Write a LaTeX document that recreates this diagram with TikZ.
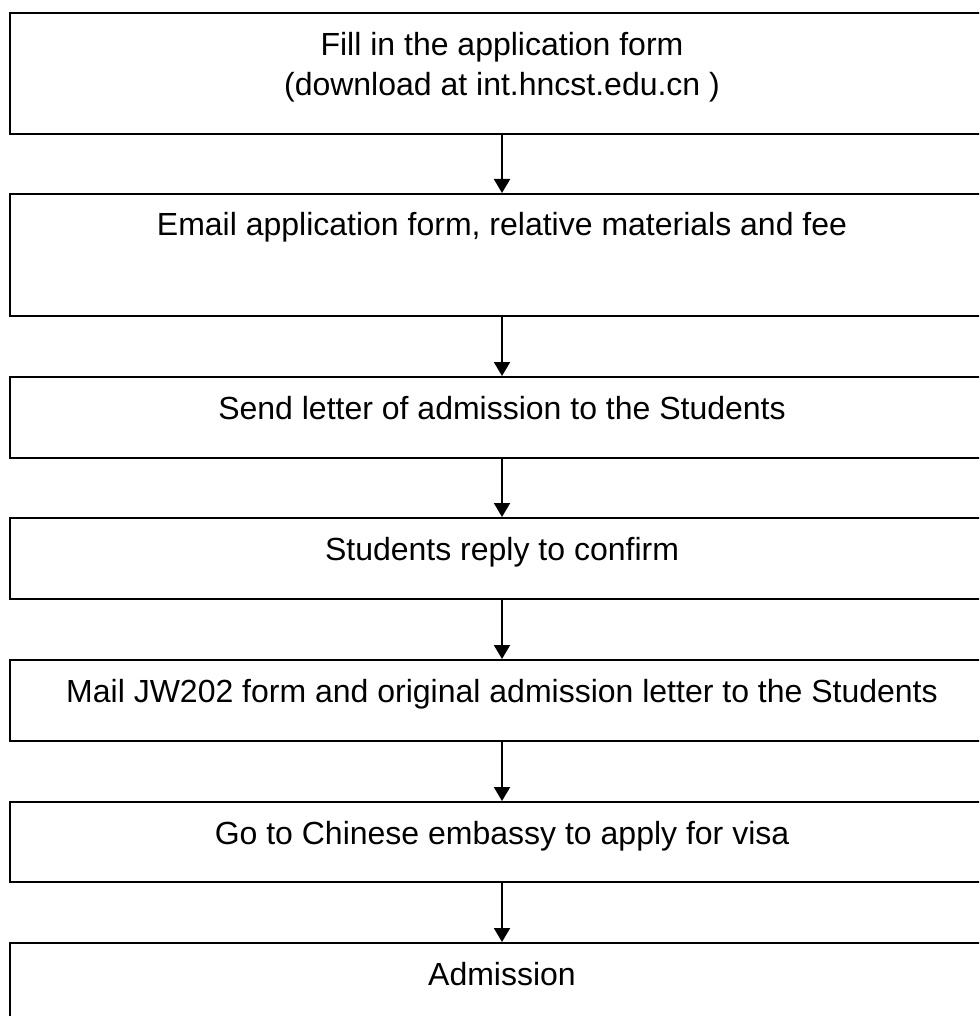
\documentclass[tikz,border=0pt]{standalone}
\usepackage{fontspec}
\setmainfont{Liberation Sans}
\usepackage{tikz}
\usetikzlibrary{positioning, arrows.meta}

\tikzset{
  stepbox/.style={draw=black, line width=2pt, minimum width=985pt,
    inner xsep=0pt, inner ysep=0pt, anchor=north, align=center,
    text height=42pt, font=\fontsize{32}{40}\selectfont},
  flowarrow/.style={line width=2pt, -{Triangle[width=16pt, length=14pt]}}
}

\begin{document}
\begin{tikzpicture}
  \useasboundingbox (0,0) rectangle (979pt,-1016pt);
  \clip (0,0) rectangle (979pt,-1016pt);

  % the steps, top to bottom
  \node[stepbox, text height=83pt, text depth=38pt] (form) at (502pt,-12pt)
      {Fill in the application form\\(download at int.hncst.edu.cn )};
  \node[stepbox, text depth=80pt] (email) at (502pt,-193pt)
      {Email application form, relative materials and fee};
  \node[stepbox, text depth=39pt] (letter) at (502pt,-376pt)
      {Send letter of admission to the Students};
  \node[stepbox, text depth=39pt] (reply) at (502pt,-517pt)
      {Students reply to confirm};
  \node[stepbox, text depth=39pt] (mail) at (502pt,-659pt)
      {Mail JW202 form and original admission letter to the Students};
  \node[stepbox, text depth=38pt] (visa) at (502pt,-801pt)
      {Go to Chinese embassy to apply for visa};
  \node[stepbox, text depth=39pt] (admit) at (502pt,-942pt)
      {Admission};

  \draw[flowarrow] (form) -- (email);
  \draw[flowarrow] (email) -- (letter);
  \draw[flowarrow] (letter) -- (reply);
  \draw[flowarrow] (reply) -- (mail);
  \draw[flowarrow] (mail) -- (visa);
  \draw[flowarrow] (visa) -- (admit);

\end{tikzpicture}
\end{document}
